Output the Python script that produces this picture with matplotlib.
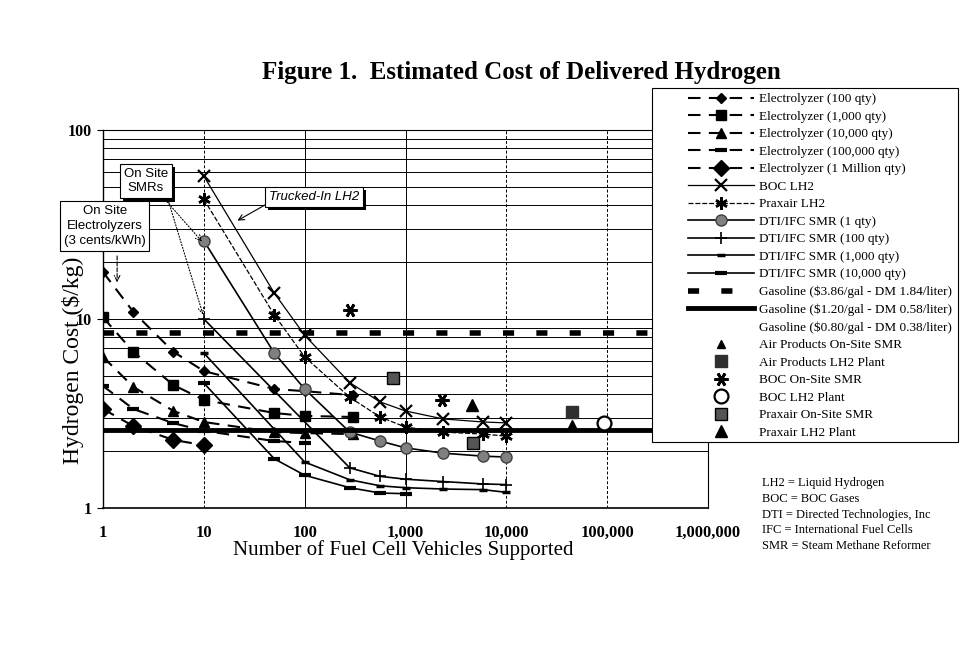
import matplotlib
matplotlib.use("Agg")
import matplotlib.pyplot as plt
from matplotlib.patches import Rectangle
from matplotlib.ticker import FixedLocator, FixedFormatter, NullFormatter
import matplotlib.patheffects as pe

# on-site electrolyzers (3 cents/kWh), by production quantity
elec_x = [1, 2, 5, 10, 50, 100, 300]
elec_100 = [17.7, 10.9, 6.7, 5.3, 4.26, 4.15, 3.95]
elec_1k = [10.2, 6.7, 4.47, 3.73, 3.18, 3.07, 3.03]
elec_10k = [6.3, 4.37, 3.26, 2.85, 2.52, 2.49, 2.46]
elec_100k_x = [1, 2, 5, 10, 50, 100]
elec_100k = [4.42, 3.34, 2.81, 2.56, 2.26, 2.21]
elec_1m_x = [1, 2, 5, 10]
elec_1m = [3.34, 2.71, 2.29, 2.15]

# trucked-in LH2
lh2_x = [10, 50, 100, 280, 560, 1000, 2350, 5900, 10000]
boc_lh2 = [57, 13.7, 8.2, 4.6, 3.64, 3.26, 2.96, 2.85, 2.82]
praxair_lh2 = [43, 10.5, 6.3, 3.85, 3.03, 2.68, 2.52, 2.46, 2.40]

# on-site SMRs (DTI/IFC)
smr1_x = [10, 50, 100, 280, 560, 1000, 2350, 5900, 10000]
smr1 = [25.9, 6.6, 4.26, 2.52, 2.26, 2.08, 1.95, 1.88, 1.86]
smr100_x = [10, 280, 560, 1000, 2350, 5900, 10000]
smr100 = [10.0, 1.63, 1.47, 1.42, 1.38, 1.34, 1.33]
smr1k_x = [10, 100, 280, 560, 1000, 2350, 5900, 10000]
smr1k = [6.6, 1.75, 1.41, 1.31, 1.28, 1.26, 1.25, 1.21]
smr10k_x = [10, 50, 100, 280, 560, 1000]
smr10k = [4.58, 1.82, 1.49, 1.28, 1.20, 1.19]

# gasoline equivalents
gas_high = 8.44
gas_mid = 2.59

# single industry estimates
ap_smr = ([4.5e4], [2.78])
ap_lh2 = ([4.5e4], [3.22])
boc_smr = ([282, 2300], [11.2, 3.73])
boc_plant = ([9.2e4], [2.82])
px_smr = ([754, 4700], [4.87, 2.21])
px_plant = ([4600], [3.5])

x_ticks = [1, 10, 100, 1000, 10000, 100000, 1000000]
x_labels = ["1", "10", "100", "1,000", "10,000", "100,000", "1,000,000"]
y_ticks = [1, 10, 100]
y_labels = ["1", "10", "100"]

notes = ["LH2 = Liquid Hydrogen", "BOC = BOC Gases", "DTI = Directed Technologies, Inc",
         "IFC = International Fuel Cells", "SMR = Steam Methane Reformer"]

serif = "Liberation Serif"
sans = "Liberation Sans"

fig = plt.figure(figsize=(9.6, 6.61), dpi=100)
ax = fig.add_axes([0.1073, 0.2315, 0.6302, 0.5719])
ax.set_xscale("log")
ax.set_yscale("log")
ax.set_xlim(1, 1e6)
ax.set_ylim(1, 100)

# grid
ax.yaxis.grid(True, which="both", color="black", lw=0.7)
for xv in x_ticks[1:-1]:
    ls = "-" if xv in (100, 1000) else (0, (3, 2))
    ax.axvline(xv, color="black", lw=0.7, ls=ls, zorder=0.5)

dash = (0, (6, 4))
ax.plot(elec_x, elec_100, color="black", lw=1.5, ls=dash, marker="D", ms=5, label="Electrolyzer (100 qty)")
ax.plot(elec_x, elec_1k, color="black", lw=1.5, ls=dash, marker="s", ms=7, label="Electrolyzer (1,000 qty)")
ax.plot(elec_x, elec_10k, color="black", lw=1.5, ls=dash, marker="^", ms=7, label="Electrolyzer (10,000 qty)")
ax.plot(elec_100k_x, elec_100k, color="black", lw=1.5, ls=dash, marker="_", ms=8, mew=3, label="Electrolyzer (100,000 qty)")
ax.plot(elec_1m_x, elec_1m, color="black", lw=1.5, ls=dash, marker="D", ms=8, label="Electrolyzer (1 Million qty)")
ax.plot(lh2_x, boc_lh2, color="black", lw=0.9, marker="x", ms=9, mew=1.6, label="BOC LH2")
ax.plot(lh2_x, praxair_lh2, color="black", lw=0.9, ls=(0, (4, 1.5)), marker=(6, 2, 0), ms=9, mew=1.8, label="Praxair LH2")
ax.plot(smr1_x, smr1, color="black", lw=1.2, marker="o", ms=8, mfc="#808080", mec="#404040", label="DTI/IFC SMR (1 qty)")
ax.plot(smr100_x, smr100, color="black", lw=1.2, marker="+", ms=9, mew=1.2, label="DTI/IFC SMR (100 qty)")
ax.plot(smr1k_x, smr1k, color="black", lw=1.2, marker="_", ms=6, mew=2.5, label="DTI/IFC SMR (1,000 qty)")
ax.plot(smr10k_x, smr10k, color="black", lw=1.2, marker="_", ms=9, mew=3, label="DTI/IFC SMR (10,000 qty)")
ax.axhline(gas_high, color="black", lw=4, ls=(0, (2, 4)), label="Gasoline ($3.86/gal - DM 1.84/liter)")
ax.axhline(gas_mid, color="black", lw=3.5, label="Gasoline ($1.20/gal - DM 0.58/liter)")
ax.plot([], [], ls="none", label="Gasoline ($0.80/gal - DM 0.38/liter)")
ax.plot(*ap_smr, ls="none", marker="^", ms=6, color="black", label="Air Products On-Site SMR")
ax.plot(*ap_lh2, ls="none", marker="s", ms=9, color="#303030", label="Air Products LH2 Plant")
ax.plot(*boc_smr, ls="none", marker=(6, 2, 90), ms=10, mew=2, color="black", label="BOC On-Site SMR")
ax.plot(*boc_plant, ls="none", marker="o", ms=10, mfc="white", mec="black", mew=1.6, label="BOC LH2 Plant")
ax.plot(*px_smr, ls="none", marker="s", ms=9, mfc="#555555", mec="black", label="Praxair On-Site SMR")
ax.plot(*px_plant, ls="none", marker="^", ms=9, color="black", label="Praxair LH2 Plant")

ax.xaxis.set_major_locator(FixedLocator(x_ticks))
ax.xaxis.set_major_formatter(FixedFormatter(x_labels))
ax.xaxis.set_minor_formatter(NullFormatter())
ax.yaxis.set_major_locator(FixedLocator(y_ticks))
ax.yaxis.set_major_formatter(FixedFormatter(y_labels))
ax.yaxis.set_minor_formatter(NullFormatter())
ax.tick_params(axis="x", which="major", length=0, pad=12)
ax.tick_params(axis="y", which="major", length=4, pad=4)
ax.tick_params(which="minor", length=0)
for lab in ax.get_xticklabels():
    lab.set_fontfamily(serif)
    lab.set_fontweight("bold")
    lab.set_fontsize(12)
for lab in ax.get_yticklabels():
    lab.set_fontfamily(serif)
    lab.set_fontweight("bold")
    lab.set_fontsize(11.5)
for side in ["top", "right"]:
    ax.spines[side].set_linewidth(0.8)
ax.spines["bottom"].set_linewidth(1.2)
ax.spines["left"].set_linewidth(1.0)

fig.text(403 / 960, 1 - 550 / 661, "Number of Fuel Cell Vehicles Supported", family=serif, fontsize=15,
         ha="center", va="center")
fig.text(0.076, 0.455, "Hydrogen Cost ($/kg)", family=serif, fontsize=17, rotation=90,
         ha="center", va="center")
fig.text(0.543, 0.891, "Figure 1.  Estimated Cost of Delivered Hydrogen", family=serif,
         fontsize=18, fontweight="bold", ha="center", va="center")

# callout boxes
shadow = [pe.SimplePatchShadow(offset=(2.5, -2.5), shadow_rgbFace="black", alpha=1), pe.Normal()]
box = dict(boxstyle="square,pad=0.3", fc="white", ec="black", lw=0.8)
t1 = fig.text(0.152, 0.726, "On Site\nSMRs", family=sans, fontsize=9.5, ha="center", va="center",
              bbox=box, linespacing=1.3)
t2 = fig.text(0.109, 0.658, "On Site\nElectrolyzers\n(3 cents/kWh)", family=sans, fontsize=9.5,
              ha="center", va="center", bbox=box, linespacing=1.3)
t3 = fig.text(0.327, 0.702, "Trucked-In LH2", family=sans, fontsize=9.5, style="italic",
              ha="center", va="center", bbox=box)
for t in (t1, t3):
    t.get_bbox_patch().set_path_effects(shadow)

arrow_dot = dict(arrowstyle="->", color="black", lw=0.8, ls=":")
ax.annotate("", xy=(10, 25.0), xycoords="data", xytext=(0.172, 0.698), textcoords="figure fraction",
            arrowprops=arrow_dot)
ax.annotate("", xy=(10, 10.2), xycoords="data", xytext=(0.175, 0.698), textcoords="figure fraction",
            arrowprops=arrow_dot)
ax.annotate("", xy=(1.38, 15.1), xycoords="data", xytext=(0.122, 0.617), textcoords="figure fraction",
            arrowprops=dict(arrowstyle="->", color="black", lw=0.8, ls="--"))
ax.annotate("", xy=(20.4, 32.6), xycoords="data", xytext=(0.281, 0.694), textcoords="figure fraction",
            arrowprops=dict(arrowstyle="->", color="black", lw=0.8))

# legend panel
fig.add_artist(Rectangle((652 / 960, 1 - 442 / 661), 306 / 960, 354 / 661, transform=fig.transFigure,
                         fc="white", ec="black", lw=0.8, zorder=3))
handles, labels = ax.get_legend_handles_labels()
leg = fig.legend(handles, labels, loc="upper left", bbox_to_anchor=(688 / 960, 1 - 93 / 661),
                 frameon=False, prop={"family": serif, "size": 9.5}, handlelength=5.0,
                 labelspacing=0.4, handletextpad=0.4, borderaxespad=0, borderpad=0)
leg.set_zorder(5)

fig.text(762 / 960, 1 - 477 / 661, "\n".join(notes), family=serif, fontsize=9, va="top", ha="left",
         linespacing=1.42)

fig.savefig("out.png", dpi=100)
